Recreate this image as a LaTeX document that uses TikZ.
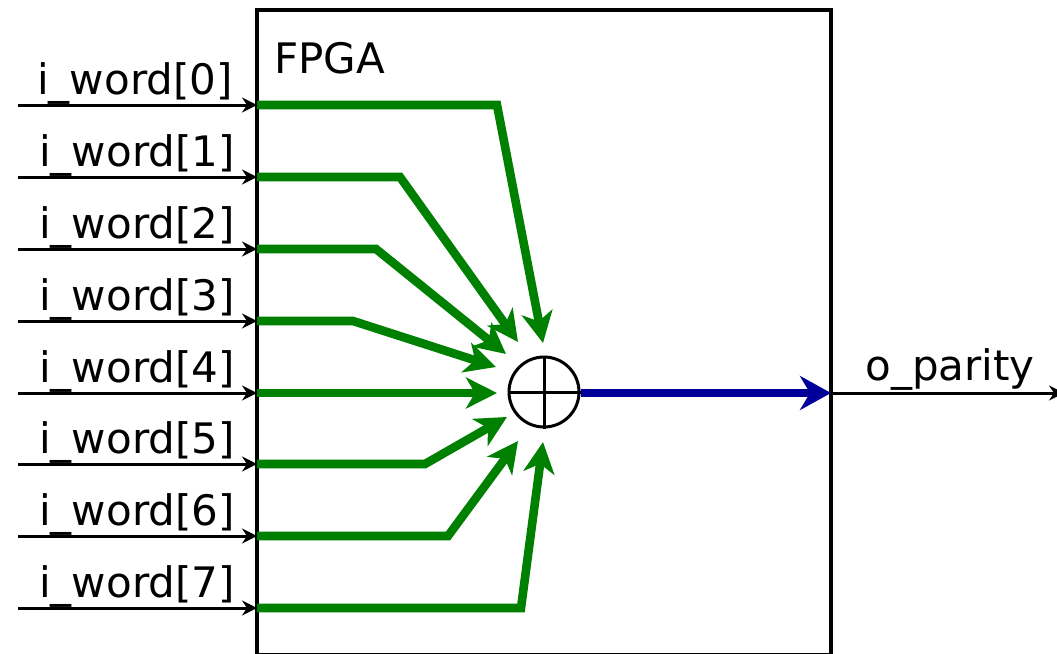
\documentclass[tikz,border=0pt]{standalone}
\usepackage{fontspec}
\setmainfont{DejaVu Sans}
\usetikzlibrary{arrows.meta}
\definecolor{bitgreen}{RGB}{0,128,0}
\definecolor{parityblue}{RGB}{0,0,153}

\begin{document}
\begin{tikzpicture}[x=0.5pt, y=-0.5pt,
  lbl/.style={anchor=base, inner sep=0pt, font=\fontsize{21}{25}\selectfont},
  wire/.style={-{Stealth[length=7.5pt, width=7.5pt, inset=2.5pt]}, line width=1.5pt},
  bit/.style={-{Stealth[length=15.5pt, width=15.5pt, inset=4.5pt]}, line width=4.3pt, bitgreen},
  result/.style={-{Stealth[length=15.5pt, width=17pt, inset=5pt]}, line width=4.3pt, parityblue}
]
\useasboundingbox (0,0) rectangle (1057,654);

% FPGA frame (runs past the lower edge)
\node[draw, line width=2.3pt, minimum width=287pt, minimum height=322.5pt, inner sep=0pt] (fpga) at (544,332.5) {};
\node[lbl, anchor=base west] (fpgalbl) at (274,73) {FPGA};

% Parity gate
\node[draw, circle, line width=1.5pt, minimum size=35pt, inner sep=0pt] (xor) at (544,392) {};
\draw[line width=1.5pt] (xor.north) -- (xor.south);
\draw[line width=1.5pt] (xor.west) -- (xor.east);

% Input ports
\coordinate (src0) at (18,105); \coordinate (in0) at (257,105);
\coordinate (src1) at (18,177); \coordinate (in1) at (257,177);
\coordinate (src2) at (18,249); \coordinate (in2) at (257,249);
\coordinate (src3) at (18,321); \coordinate (in3) at (257,321);
\coordinate (src4) at (18,393); \coordinate (in4) at (257,393);
\coordinate (src5) at (18,464); \coordinate (in5) at (257,464);
\coordinate (src6) at (18,536); \coordinate (in6) at (257,536);
\coordinate (src7) at (18,608); \coordinate (in7) at (257,608);

\draw[wire] (src0) -- (in0);
\draw[wire] (src1) -- (in1);
\draw[wire] (src2) -- (in2);
\draw[wire] (src3) -- (in3);
\draw[wire] (src4) -- (in4);
\draw[wire] (src5) -- (in5);
\draw[wire] (src6) -- (in6);
\draw[wire] (src7) -- (in7);

\node[lbl] (w0) at (135,94) {i\_word[0]};
\node[lbl] (w1) at (137,166) {i\_word[1]};
\node[lbl] (w2) at (137,238) {i\_word[2]};
\node[lbl] (w3) at (137,310) {i\_word[3]};
\node[lbl] (w4) at (137,382) {i\_word[4]};
\node[lbl] (w5) at (137,453) {i\_word[5]};
\node[lbl] (w6) at (137,525) {i\_word[6]};
\node[lbl] (w7) at (137,597) {i\_word[7]};

% Where the bits land around the gate
\coordinate (t0) at (543,343);
\coordinate (t1) at (518,342);
\coordinate (t2) at (506,354);
\coordinate (t3) at (496,367);
\coordinate (t4) at (497,393);
\coordinate (t5) at (507,417);
\coordinate (t6) at (518,441);
\coordinate (t7) at (543,442);

\draw[bit] (in0) -- (497,105) -- (t0);
\draw[bit] (in1) -- (400,177) -- (t1);
\draw[bit] (in2) -- (376,249) -- (t2);
\draw[bit] (in3) -- (353,321) -- (t3);
\draw[bit] (in4) -- (t4);
\draw[bit] (in5) -- (425,464) -- (t5);
\draw[bit] (in6) -- (448,536) -- (t6);
\draw[bit] (in7) -- (521,608) -- (t7);

% Output
\coordinate (out) at (831,393);
\coordinate (sink) at (1064,393);
\draw[result] (xor.east |- out) -- (out);
\draw[wire] (out) -- (sink);
\node[lbl] (par) at (950,380) {o\_parity};

\end{tikzpicture}
\end{document}
